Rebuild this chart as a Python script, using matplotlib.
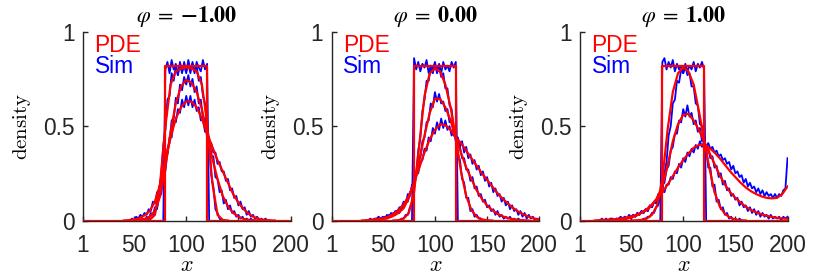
import numpy as np
import matplotlib
matplotlib.use("Agg")
import matplotlib.pyplot as plt
from matplotlib.lines import Line2D

plt.rcParams['font.family'] = ['Liberation Sans', 'DejaVu Sans']
plt.rcParams['mathtext.fontset'] = 'cm'

# ---------------- data ----------------
phis = [-1.00, 0.00, 1.00]
x_ticks = [1, 50, 100, 150, 200]
y_ticks = [0, 0.5, 1]
xtick_labels = ['1', '50', '100', '150', '200']
ytick_labels = ['0', '0.5', '1']

# initial condition (step profile)
init_x = [1, 80, 80, 120, 120, 200]
init_y = [0, 0, 0.82, 0.82, 0, 0]

PDE_STEP = 5
SIM_STEP = 2

# PDE curves: (start x, values every 5 units)
pde = [
    [  # phi = -1
        (60, [0, 0.005, 0.03, 0.2, 0.5, 0.72, 0.79, 0.805, 0.81, 0.805, 0.79, 0.72, 0.52, 0.2, 0.03, 0.003, 0]),
        (50, [0, 0.002, 0.008, 0.02, 0.05, 0.13, 0.28, 0.47, 0.62, 0.71, 0.745, 0.73, 0.68, 0.59, 0.46, 0.33,
              0.22, 0.13, 0.075, 0.04, 0.02, 0.008, 0.003, 0.001, 0]),
        (40, [0, 0.002, 0.005, 0.012, 0.027, 0.05, 0.10, 0.19, 0.32, 0.44, 0.54, 0.60, 0.63, 0.63, 0.60, 0.54,
              0.46, 0.39, 0.32, 0.26, 0.20, 0.14, 0.095, 0.06, 0.035, 0.018, 0.008, 0.003, 0.001, 0]),
    ],
    [  # phi = 0
        (60, [0, 0.002, 0.01, 0.04, 0.15, 0.40, 0.66, 0.78, 0.805, 0.79, 0.72, 0.60, 0.44, 0.26, 0.13, 0.055,
              0.02, 0.006, 0.001, 0]),
        (35, [0, 0.001, 0.003, 0.007, 0.013, 0.024, 0.04, 0.065, 0.12, 0.2, 0.32, 0.45, 0.57, 0.645, 0.645, 0.6,
              0.53, 0.44, 0.36, 0.28, 0.22, 0.16, 0.115, 0.08, 0.055, 0.035, 0.022, 0.013, 0.007, 0.003, 0.001, 0]),
        (30, [0, 0.002, 0.005, 0.008, 0.012, 0.02, 0.035, 0.055, 0.085, 0.13, 0.2, 0.28, 0.36, 0.43, 0.48, 0.51,
              0.505, 0.48, 0.44, 0.41, 0.37, 0.33, 0.29, 0.25, 0.215, 0.18, 0.145, 0.115, 0.09, 0.066, 0.047,
              0.032, 0.02, 0.011, 0.005]),
    ],
    [  # phi = 1
        (50, [0, 0.001, 0.003, 0.01, 0.03, 0.08, 0.22, 0.48, 0.68, 0.78, 0.81, 0.79, 0.72, 0.58, 0.43, 0.28,
              0.15, 0.075, 0.035, 0.015, 0.005, 0.001, 0]),
        (20, [0, 0.001, 0.002, 0.003, 0.005, 0.009, 0.015, 0.025, 0.04, 0.055, 0.08, 0.12, 0.18, 0.29, 0.42,
              0.51, 0.56, 0.565, 0.53, 0.48, 0.42, 0.36, 0.30, 0.24, 0.19, 0.15, 0.12, 0.095, 0.073, 0.056,
              0.043, 0.033, 0.025, 0.019, 0.014, 0.011, 0.009]),
        (15, [0, 0.002, 0.003, 0.005, 0.007, 0.01, 0.015, 0.022, 0.03, 0.042, 0.06, 0.085, 0.115, 0.15, 0.19,
              0.235, 0.28, 0.32, 0.355, 0.385, 0.40, 0.40, 0.385, 0.36, 0.33, 0.295, 0.26, 0.23, 0.20, 0.175,
              0.155, 0.14, 0.128, 0.12, 0.117, 0.12, 0.14, 0.18]),
    ],
]

# Simulation curves: (start x, values every 2 units)
sim = [
    [  # phi = -1
        (78, [0, 0.80, 0.84, 0.78, 0.85, 0.80, 0.83, 0.77, 0.84, 0.79, 0.82, 0.78, 0.85, 0.80, 0.83, 0.78, 0.84,
              0.81, 0.79, 0.85, 0.80, 0.83, 0]),
        (64, [0.00, 0.01, 0.02, 0.04, 0.07, 0.16, 0.24, 0.40, 0.48, 0.64, 0.66, 0.78, 0.74, 0.82, 0.77, 0.83,
              0.78, 0.84, 0.79, 0.83, 0.78, 0.84, 0.79, 0.82, 0.74, 0.76, 0.66, 0.62, 0.50, 0.42, 0.24, 0.18,
              0.06, 0.04, 0.01, 0.00]),
        (56, [0.00, 0.01, 0.00, 0.02, 0.01, 0.04, 0.03, 0.07, 0.06, 0.13, 0.14, 0.25, 0.26, 0.38, 0.41, 0.53,
              0.54, 0.65, 0.62, 0.72, 0.69, 0.76, 0.72, 0.77, 0.71, 0.75, 0.68, 0.71, 0.62, 0.64, 0.54, 0.54,
              0.44, 0.44, 0.34, 0.34, 0.23, 0.22, 0.15, 0.16, 0.09, 0.11, 0.06, 0.08, 0.04, 0.05, 0.02, 0.03,
              0.01, 0.02, 0.00, 0.01, 0.00, 0.01, 0.00, 0.00]),
        (46, [0.00, 0.01, 0.00, 0.02, 0.01, 0.03, 0.02, 0.04, 0.03, 0.06, 0.05, 0.10, 0.09, 0.15, 0.16, 0.23,
              0.25, 0.34, 0.35, 0.44, 0.44, 0.53, 0.52, 0.59, 0.57, 0.64, 0.60, 0.66, 0.61, 0.66, 0.60, 0.64,
              0.58, 0.60, 0.53, 0.54, 0.47, 0.48, 0.42, 0.41, 0.36, 0.36, 0.30, 0.31, 0.26, 0.26, 0.21, 0.22,
              0.16, 0.17, 0.12, 0.13, 0.08, 0.10, 0.06, 0.07, 0.03, 0.05, 0.02, 0.03, 0.01, 0.02, 0.00, 0.01,
              0.00, 0.01, 0.00, 0.00]),
    ],
    [  # phi = 0
        (78, [0, 0.86, 0.80, 0.84, 0.79, 0.83, 0.81, 0.85, 0.78, 0.82, 0.80, 0.84, 0.79, 0.83, 0.78, 0.84, 0.80,
              0.82, 0.79, 0.84, 0.81, 0.84, 0]),
        (66, [0.00, 0.01, 0.01, 0.03, 0.03, 0.07, 0.09, 0.17, 0.24, 0.37, 0.44, 0.58, 0.64, 0.74, 0.74, 0.81,
              0.78, 0.83, 0.78, 0.82, 0.76, 0.78, 0.70, 0.70, 0.61, 0.59, 0.48, 0.47, 0.35, 0.32, 0.22, 0.20,
              0.12, 0.12, 0.05, 0.06, 0.02, 0.03, 0.01, 0.01, 0.00]),
        (44, [0.00, 0.01, 0.00, 0.01, 0.02, 0.01, 0.03, 0.02, 0.04, 0.03, 0.05, 0.04, 0.07, 0.07, 0.10, 0.10,
              0.15, 0.16, 0.22, 0.24, 0.32, 0.33, 0.42, 0.44, 0.52, 0.53, 0.62, 0.60, 0.68, 0.63, 0.67, 0.62,
              0.63, 0.58, 0.59, 0.52, 0.53, 0.45, 0.46, 0.39, 0.39, 0.33, 0.33, 0.27, 0.27, 0.21, 0.23, 0.17,
              0.18, 0.13, 0.14, 0.10, 0.11, 0.07, 0.08, 0.05, 0.06, 0.03, 0.05, 0.02, 0.03, 0.01, 0.02, 0.01,
              0.02, 0.00, 0.01, 0.00, 0.01, 0.00, 0.00, 0.00]),
        (36, [0.00, 0.01, 0.00, 0.01, 0.01, 0.02, 0.01, 0.02, 0.01, 0.03, 0.02, 0.04, 0.03, 0.05, 0.05, 0.07,
              0.07, 0.10, 0.09, 0.14, 0.13, 0.19, 0.19, 0.25, 0.25, 0.31, 0.32, 0.38, 0.37, 0.44, 0.42, 0.49,
              0.46, 0.52, 0.48, 0.54, 0.49, 0.53, 0.48, 0.50, 0.45, 0.47, 0.42, 0.44, 0.39, 0.42, 0.36, 0.39,
              0.33, 0.35, 0.30, 0.32, 0.27, 0.29, 0.24, 0.26, 0.21, 0.23, 0.18, 0.20, 0.15, 0.17, 0.13, 0.14,
              0.10, 0.12, 0.08, 0.10, 0.06, 0.08, 0.05, 0.06, 0.03, 0.05, 0.02, 0.04, 0.01, 0.03, 0.01, 0.02,
              0.00, 0.01, 0.00]),
    ],
    [  # phi = 1
        (78, [0, 0.84, 0.86, 0.80, 0.84, 0.81, 0.85, 0.79, 0.83, 0.80, 0.82, 0.78, 0.83, 0.79, 0.82, 0.80, 0.84,
              0.79, 0.83, 0.81, 0.84, 0.80, 0]),
        (60, [0.00, 0.01, 0.01, 0.02, 0.02, 0.04, 0.04, 0.07, 0.08, 0.13, 0.15, 0.25, 0.31, 0.45, 0.50, 0.62,
              0.64, 0.74, 0.73, 0.80, 0.78, 0.82, 0.77, 0.78, 0.71, 0.71, 0.62, 0.61, 0.51, 0.50, 0.40, 0.39,
              0.28, 0.28, 0.18, 0.19, 0.10, 0.11, 0.06, 0.07, 0.03, 0.04, 0.01, 0.02, 0.00, 0.01, 0.00, 0.01,
              0.00]),
        (30, [0.00, 0.01, 0.00, 0.01, 0.00, 0.01, 0.01, 0.02, 0.01, 0.02, 0.01, 0.03, 0.02, 0.04, 0.03, 0.05,
              0.04, 0.06, 0.05, 0.08, 0.07, 0.10, 0.10, 0.14, 0.14, 0.19, 0.20, 0.27, 0.29, 0.37, 0.39, 0.46,
              0.46, 0.53, 0.52, 0.59, 0.55, 0.61, 0.55, 0.57, 0.51, 0.53, 0.47, 0.49, 0.42, 0.44, 0.37, 0.38,
              0.33, 0.34, 0.28, 0.29, 0.23, 0.25, 0.19, 0.21, 0.16, 0.17, 0.13, 0.14, 0.11, 0.12, 0.08, 0.10,
              0.07, 0.08, 0.05, 0.07, 0.04, 0.06, 0.03, 0.05, 0.02, 0.04, 0.02, 0.03, 0.01, 0.03, 0.01, 0.02,
              0.01, 0.02, 0.00, 0.02, 0.01, 0.02]),
        (20, [0.00, 0.01, 0.00, 0.01, 0.00, 0.01, 0.01, 0.00, 0.01, 0.01, 0.02, 0.01, 0.02, 0.01, 0.03, 0.02,
              0.03, 0.02, 0.04, 0.03, 0.05, 0.04, 0.06, 0.05, 0.08, 0.07, 0.10, 0.09, 0.13, 0.12, 0.16, 0.15,
              0.19, 0.19, 0.23, 0.22, 0.26, 0.25, 0.30, 0.28, 0.33, 0.31, 0.36, 0.34, 0.38, 0.36, 0.40, 0.38,
              0.42, 0.39, 0.42, 0.39, 0.41, 0.38, 0.39, 0.36, 0.37, 0.34, 0.35, 0.32, 0.33, 0.30, 0.31, 0.27,
              0.29, 0.25, 0.26, 0.23, 0.24, 0.20, 0.22, 0.18, 0.20, 0.17, 0.18, 0.15, 0.17, 0.14, 0.16, 0.13,
              0.15, 0.13, 0.14, 0.12, 0.14, 0.12, 0.14, 0.13, 0.16, 0.17, 0.33]),
    ],
]

RED = (1, 0, 0)
BLUE = (0, 0, 1)
AX_COLOR = (0.15, 0.15, 0.15)

fig = plt.figure(figsize=(8.30, 2.77), dpi=100)
W, H = 830.0, 277.0
lefts = [83, 331.7, 580]
ax_w = 207.5
ax_top, ax_bot = 31.7, 220.5

for i, phi in enumerate(phis):
    ax = fig.add_axes([lefts[i] / W, (H - ax_bot) / H, ax_w / W, (ax_bot - ax_top) / H])
    for start, vals in sim[i]:
        xs = start + SIM_STEP * np.arange(len(vals))
        ax.plot(xs, vals, color=BLUE, lw=1.3, zorder=2)
    ax.plot(init_x, init_y, color=RED, lw=1.6, zorder=3)
    for start, vals in pde[i]:
        xs = start + PDE_STEP * np.arange(len(vals))
        ax.plot(xs, vals, color=RED, lw=1.6, zorder=3)

    ax.set_xlim(1, 200)
    ax.set_ylim(0, 1)
    ax.set_xticks(x_ticks)
    ax.set_xticklabels(xtick_labels)
    ax.set_yticks(y_ticks)
    ax.set_yticklabels(ytick_labels)
    for s in ['top', 'right']:
        ax.spines[s].set_visible(False)
    for s in ['left', 'bottom']:
        ax.spines[s].set_color(AX_COLOR)
        ax.spines[s].set_linewidth(1.0)
    ax.tick_params(direction='in', length=3.5, width=1.0, color=AX_COLOR,
                   labelsize=16.4, labelcolor=AX_COLOR)
    ax.tick_params(axis='x', pad=9.5)
    ax.tick_params(axis='y', pad=6)
    ax.set_ylabel(r'$\mathrm{density}$', fontsize=15, labelpad=7)
    ax.set_xlabel(r'$x$', fontsize=16, labelpad=-1)
    ax.set_title(r'$\varphi\;=\;\mathbf{%.2f}$' % phi, fontsize=16, pad=7,
                 math_fontfamily='stix')

    handles = [Line2D([], [], color=RED), Line2D([], [], color=BLUE)]
    ax.legend(handles, ['PDE', 'Sim'], loc='upper left', frameon=False,
              handlelength=0, handletextpad=0, labelcolor='linecolor',
              fontsize=16.4, borderaxespad=0.0, labelspacing=-0.1,
              bbox_to_anchor=(0.012, 1.035))

fig.savefig('out.png', dpi=100)
